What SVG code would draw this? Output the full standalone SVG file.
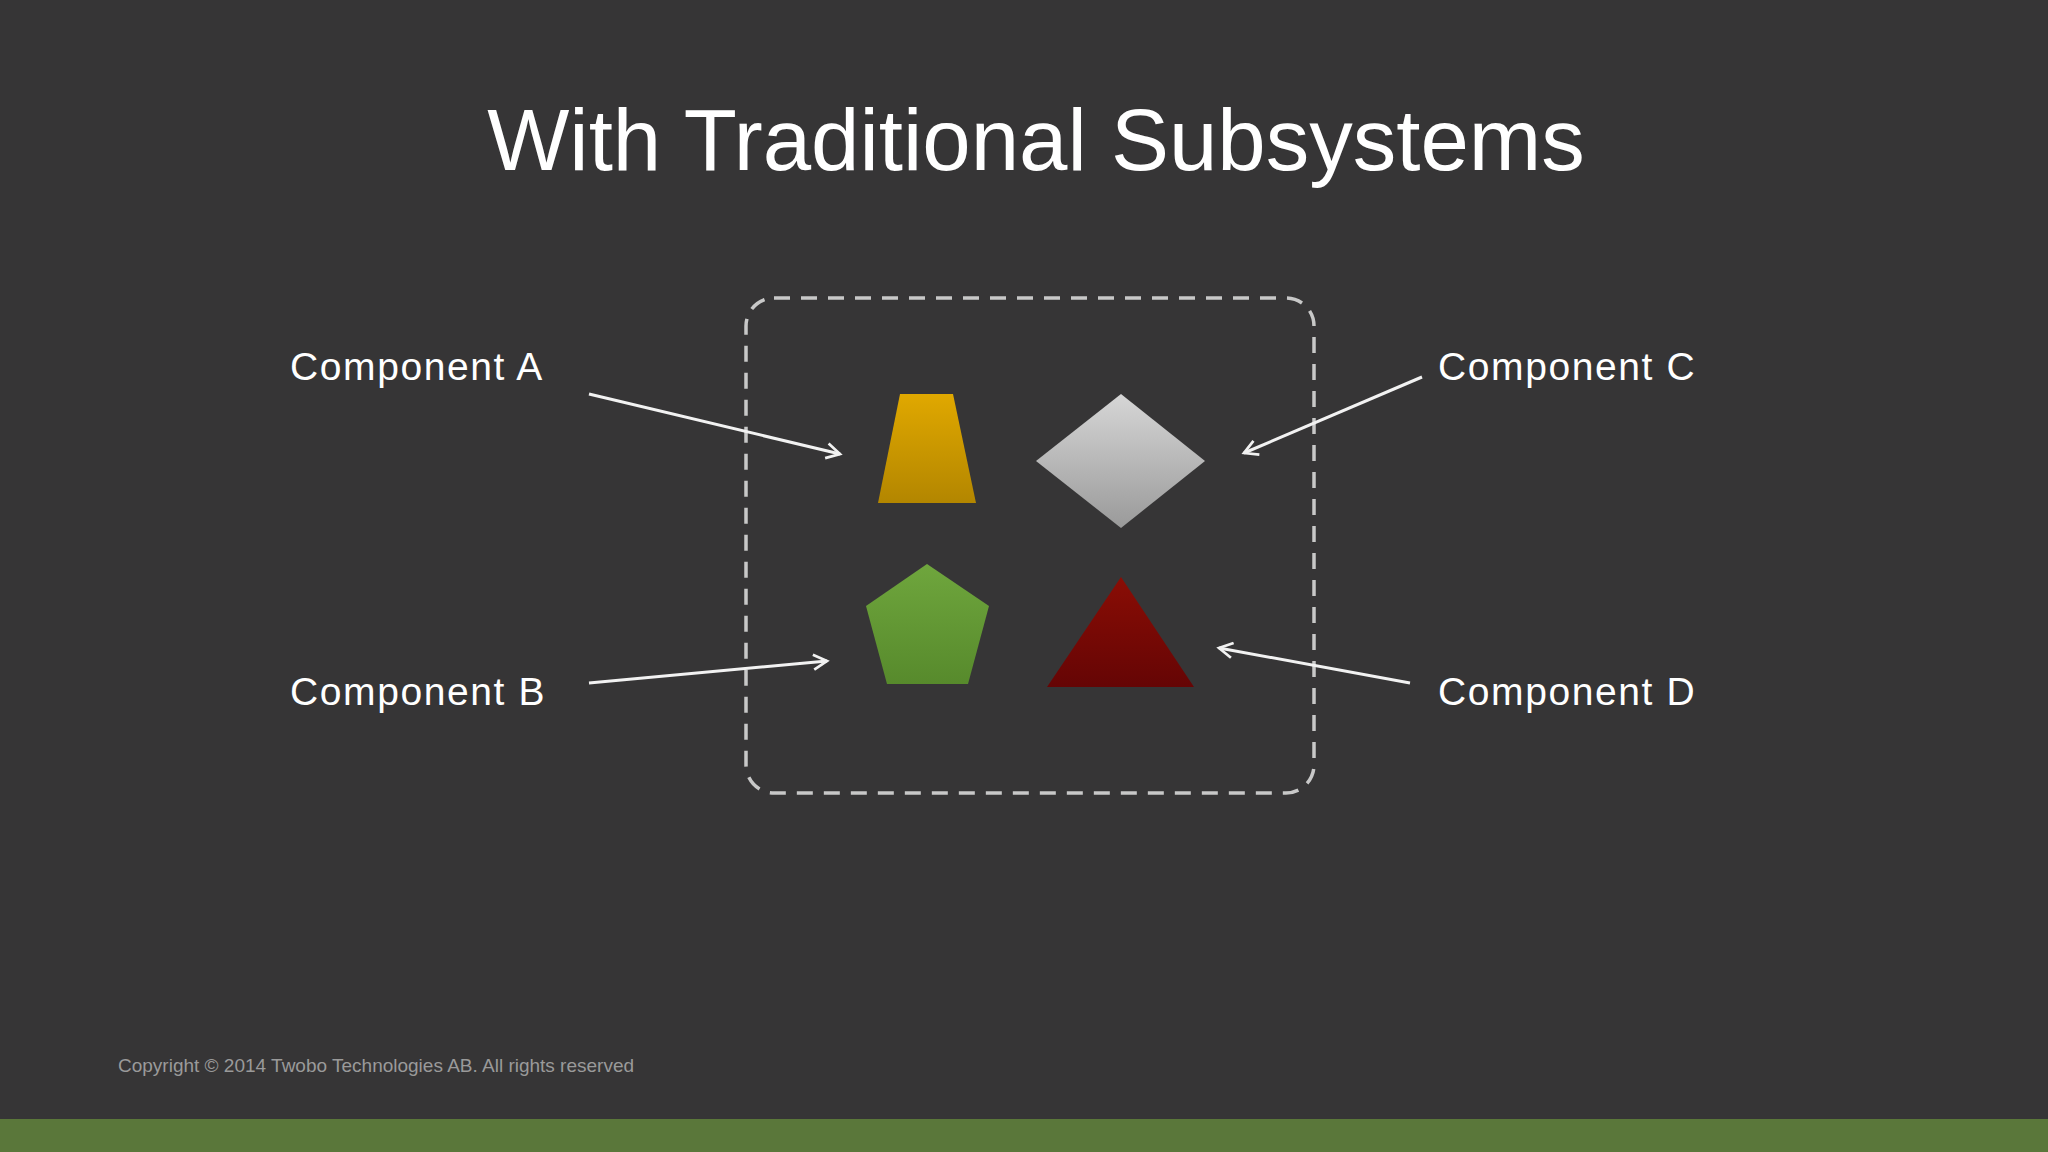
<svg xmlns="http://www.w3.org/2000/svg" width="2048" height="1152" viewBox="0 0 2048 1152">
<defs>
<style>
.lbl{font-family:"Liberation Sans","DejaVu Sans",sans-serif;font-size:39px;fill:#fff;letter-spacing:1.6px}
.arr{stroke:#f2f2f2;stroke-width:3;fill:none;marker-end:url(#ah)}
</style>
<marker id="ah" viewBox="0 0 12 12" refX="10" refY="6" markerWidth="6" markerHeight="6" orient="auto" markerUnits="strokeWidth"><path d="M1,1 L10,6 L1,11" fill="none" stroke="#f2f2f2" stroke-width="1.8"/></marker>
<linearGradient id="gy" x1="0" y1="0" x2="0" y2="1"><stop offset="0" stop-color="#e0a800"/><stop offset="1" stop-color="#b38600"/></linearGradient>
<linearGradient id="gs" x1="0" y1="0" x2="0" y2="1"><stop offset="0" stop-color="#d6d6d6"/><stop offset="1" stop-color="#9a9a9a"/></linearGradient>
<linearGradient id="gg" x1="0" y1="0" x2="0" y2="1"><stop offset="0" stop-color="#6fa63d"/><stop offset="1" stop-color="#578a2c"/></linearGradient>
<linearGradient id="gr" x1="0" y1="0" x2="0" y2="1"><stop offset="0" stop-color="#8a0d05"/><stop offset="1" stop-color="#650505"/></linearGradient>
</defs>
<rect width="2048" height="1152" fill="#363536"/>
<rect x="0" y="1119" width="2048" height="33" fill="#5a773a"/>
<text x="1036" y="170" text-anchor="middle" font-family="Liberation Sans, sans-serif" font-size="87" fill="#fff" font-weight="300">With Traditional Subsystems</text>
<g id="boundary"><rect x="746" y="298" width="568" height="495" rx="28" fill="none" stroke="#c8c8c8" stroke-width="3.5" stroke-dasharray="16 11"/></g>
<g id="shapeA"><polygon points="900,394 953,394 976,503 878,503" fill="url(#gy)"/></g>
<g id="shapeC"><polygon points="1121,394 1205,461 1121,528 1036,461" fill="url(#gs)"/></g>
<g id="shapeB"><polygon points="927,564 989,606 968,684 887,684 866,606" fill="url(#gg)"/></g>
<g id="shapeD"><polygon points="1121,577 1194,687 1047,687" fill="url(#gr)"/></g>
<g id="labelA"><text class="lbl" x="290" y="380">Component A</text></g>
<g id="labelB"><text class="lbl" x="290" y="705">Component B</text></g>
<g id="labelC"><text class="lbl" x="1438" y="380">Component C</text></g>
<g id="labelD"><text class="lbl" x="1438" y="705">Component D</text></g>
<g id="connectors">
<line class="arr" x1="589" y1="394" x2="840" y2="454"/>
<line class="arr" x1="589" y1="683" x2="827" y2="661"/>
<line class="arr" x1="1422" y1="377" x2="1244" y2="453"/>
<line class="arr" x1="1410" y1="683" x2="1219" y2="648"/>
</g>
<text x="118" y="1072" font-family="Liberation Sans, sans-serif" font-size="19" fill="#9a9a9a">Copyright © 2014 Twobo Technologies AB. All rights reserved</text>
</svg>
